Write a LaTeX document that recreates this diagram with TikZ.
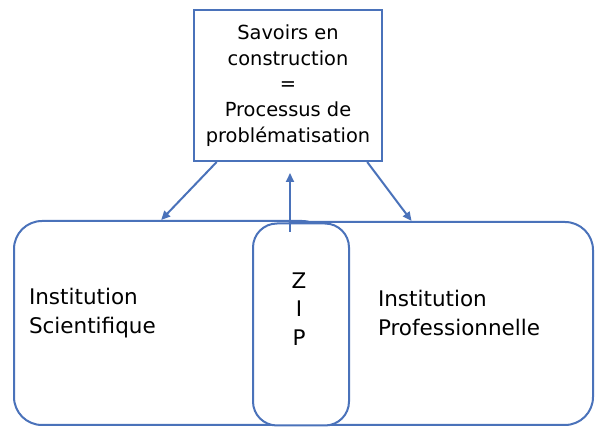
\documentclass[tikz,border=0pt]{standalone}
\usepackage{fontspec}
\setmainfont{DejaVu Sans}
\usetikzlibrary{arrows.meta}
\definecolor{frameblue}{RGB}{74,114,186}

\begin{document}
\begin{tikzpicture}[x=1pt, y=-1pt, line width=2pt,
    >={Triangle[length=9pt,width=8pt]},
    topbox/.style={draw=frameblue, fill=white, minimum width=188pt, minimum height=151pt,
      inner sep=0pt, align=center, font=\fontsize{19.4}{25.7}\selectfont},
    instbox/.style={draw=frameblue, rounded corners=28pt, inner sep=0pt},
    zipbox/.style={draw=frameblue, fill=white, rounded corners=24pt, minimum width=96pt,
      minimum height=202pt, inner sep=0pt},
    label/.style={align=left, inner sep=0pt, font=\fontsize{21.5}{28.5}\selectfont}]

  \useasboundingbox (0,0) rectangle (595,427);

  % institutions
  \node[instbox, minimum width=316pt, minimum height=204pt] (sci) at (172,323) {};
  \node[instbox, minimum width=323pt, minimum height=203pt] (pro) at (431.5,323.5) {};
  \node[zipbox] (zip) at (301,324.5) {};

  % texts
  \node[label, anchor=west] (scitext) at (28,313) {Institution\\Scientifique};
  \node[label, anchor=west] (protext) at (377,313) {Institution\\Professionnelle};
  \node[label, align=center] (ziptext) at (299,309) {Z\\I\\P};

  % top box
  \node[topbox] (savoirs) at (288,85.5)
    {Savoirs en\\construction\\=\\Processus de\\problématisation};

  % arrows
  \draw[->, frameblue] (savoirs.-133) -- (sci.96);   % down left
  \draw[->, frameblue] (savoirs.-44) -- (pro.101);   % down right
  \coordinate (up) at (290,232);
  \draw[->, frameblue, shorten >=11pt] (up) -- (savoirs.south -| up);   % up

\end{tikzpicture}
\end{document}
